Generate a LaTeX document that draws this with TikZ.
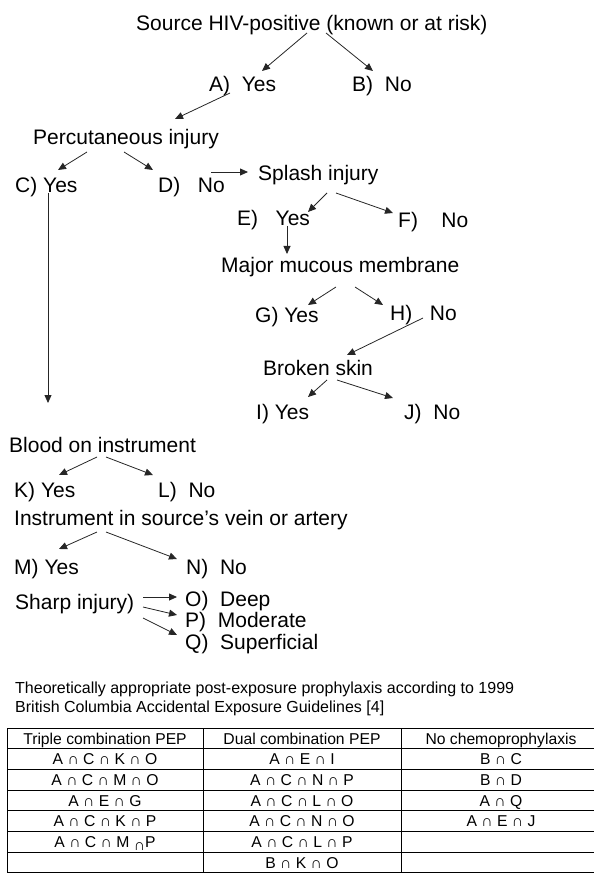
\documentclass[tikz,border=0pt]{standalone}
\usepackage{fontspec}
\setmainfont{Liberation Sans}
\usetikzlibrary{arrows.meta}
\begin{document}
\begin{tikzpicture}[x=1pt,y=-1pt,
  lbl/.style={anchor=base west,inner sep=0pt,font=\fontsize{21}{25}\selectfont},
  arr/.style={-{Triangle[length=8pt,width=7pt]},line width=0.8pt,black!85},
  captxt/.style={anchor=base west,inner sep=0pt,font=\fontsize{16}{19}\selectfont},
  cell/.style={anchor=base,inner sep=0pt,font=\fontsize{15.7}{19}\selectfont}]
\useasboundingbox (0,0) rectangle (594,874);
%%
%% upper tree
\node [lbl] (src)    at (136,30.5)  {Source HIV-positive (known or at risk)};
\node [lbl] (A)      at (209,91.5)  {A)\ \ Yes};
\node [lbl] (B)      at (352,91.5)  {B)\ \ No};
\node [lbl] (perc)   at (33,144.5)  {Percutaneous injury};
\node [lbl] (C)      at (15,192.5)  {C) Yes};
\node [lbl] (D)      at (158,192.5) {D)\ \ \ No};
\node [lbl] (splash) at (258,180.5) {Splash injury};
\node [lbl] (E)      at (237,225.5) {E)\ \ \ Yes};
\node [lbl] (F)      at (398,227.5) {F)\ \ \ \ No};
\node [lbl] (major)  at (221,272.5) {Major mucous membrane};
\node [lbl] (G)      at (255,322.5) {G) Yes};
\node [lbl] (H)      at (390,320.5) {H)\ \ \ No};
\node [lbl] (broken) at (263,375.5) {Broken skin};
\node [lbl] (I)      at (256,419.5) {I) Yes};
\node [lbl] (J)      at (404,419.5) {J)\ \ No};
%% lower tree
\node [lbl] (blood)  at (9,452.5)   {Blood on instrument};
\node [lbl] (K)      at (14,497.5)  {K) Yes};
\node [lbl] (L)      at (158,497.5) {L)\ \ No};
\node [lbl] (instr)  at (14,525.5)  {Instrument in source’s vein or artery};
\node [lbl] (M)      at (14,574.5)  {M) Yes};
\node [lbl] (N)      at (186,574.5) {N)\ \ No};
\node [lbl] (sharp)  at (15,609.5)  {Sharp injury)};
\node [lbl] (O)      at (185,606.5) {O)\ \ Deep};
\node [lbl] (P)      at (185,627.5) {P)\ \ Moderate};
\node [lbl] (Q)      at (185,649.5) {Q)\ \ Superficial};
%%
%% arrows
\draw [arr] ([shift={(171,2.5)}]src.base west) -- ([shift={(53,-20.5)}]A.base west);
\draw [arr] ([shift={(190,2.5)}]src.base west) -- ([shift={(21,-20.5)}]B.base west);
\draw [arr] ([shift={(21,1.5)}]A.base west) -- ([shift={(142,-25.5)}]perc.base west);
\draw [arr] ([shift={(54,7.5)}]perc.base west) -- ([shift={(43,-22.5)}]C.base west);
\draw [arr] ([shift={(91,7.5)}]perc.base west) -- ([shift={(-5,-22.5)}]D.base west);
\draw [arr] ([shift={(53,-20.5)}]D.base west) -- ([shift={(-10,-8.5)}]splash.base west);
\draw [arr] ([shift={(33,0.5)}]C.base west) -- ([shift={(39,-49.5)}]blood.base west);
\draw [arr] ([shift={(69,12.5)}]splash.base west) -- ([shift={(71,-13.5)}]E.base west);
\draw [arr] ([shift={(78,12.5)}]splash.base west) -- ([shift={(-5,-14.5)}]F.base west);
\draw [arr] ([shift={(50,0.5)}]E.base west) -- ([shift={(66,-18.5)}]major.base west);
\draw [arr] ([shift={(115,14.5)}]major.base west) -- ([shift={(53,-17.5)}]G.base west);
\draw [arr] ([shift={(134,14.5)}]major.base west) -- ([shift={(-7,-15.5)}]H.base west);
\draw [arr] ([shift={(33,-2.5)}]H.base west) -- ([shift={(84,-20.5)}]broken.base west);
\draw [arr] ([shift={(64,4.5)}]broken.base west) -- ([shift={(52,-22.5)}]I.base west);
\draw [arr] ([shift={(74,4.5)}]broken.base west) -- ([shift={(-11,-21.5)}]J.base west);
\draw [arr] ([shift={(88,4.5)}]blood.base west) -- ([shift={(45,-22.5)}]K.base west);
\draw [arr] ([shift={(97,4.5)}]blood.base west) -- ([shift={(-5,-22.5)}]L.base west);
\draw [arr] ([shift={(83,6.5)}]instr.base west) -- ([shift={(45,-25.5)}]M.base west);
\draw [arr] ([shift={(92,6.5)}]instr.base west) -- ([shift={(-9,-15.5)}]N.base west);
\draw [arr] ([shift={(128,-12.5)}]sharp.base west) -- ([shift={(-8,-9.5)}]O.base west);
\draw [arr] ([shift={(128,-2.5)}]sharp.base west) -- ([shift={(-8,-12.5)}]P.base west);
\draw [arr] ([shift={(128,8.5)}]sharp.base west) -- ([shift={(-8,-14.5)}]Q.base west);
%%
%% caption
\node [captxt] (cap1) at (15,693.7) {Theoretically appropriate post-exposure prophylaxis according to 1999};
\node [captxt] (cap2) at (15,712.7) {British Columbia Accidental Exposure Guidelines [4]};
%%
%% table
\foreach \k in {0,...,7}
  \draw [line width=0.9pt] (7,728+20.7*\k) -- (594,728+20.7*\k);
\foreach \xx in {7,203,401}
  \draw [line width=0.9pt] (\xx,728) -- (\xx,872.9);
\foreach \r/\a/\b/\c in {0/Triple combination PEP/Dual combination PEP/No chemoprophylaxis,
    1/A ∩ C ∩ K ∩ O/A ∩ E ∩ I/B ∩ C,
    2/A ∩ C ∩ M ∩ O/A ∩ C ∩ N ∩ P/B ∩ D,
    3/A ∩ E ∩ G/A ∩ C ∩ L ∩ O/A ∩ Q,
    4/A ∩ C ∩ K ∩ P/A ∩ C ∩ N ∩ O/A ∩ E ∩ J,
    5/{A ∩ C ∩ M \raisebox{-2.5pt}{∩}P}/A ∩ C ∩ L ∩ P/,
    6//B ∩ K ∩ O/}
{
  \node [cell] (t\r a) at (105,728+20.7*\r+16) {\a};
  \node [cell] (t\r b) at (302,728+20.7*\r+16) {\b};
  \node [cell] (t\r c) at (501,728+20.7*\r+16) {\c};
}
%%
\end{tikzpicture}
\end{document}
